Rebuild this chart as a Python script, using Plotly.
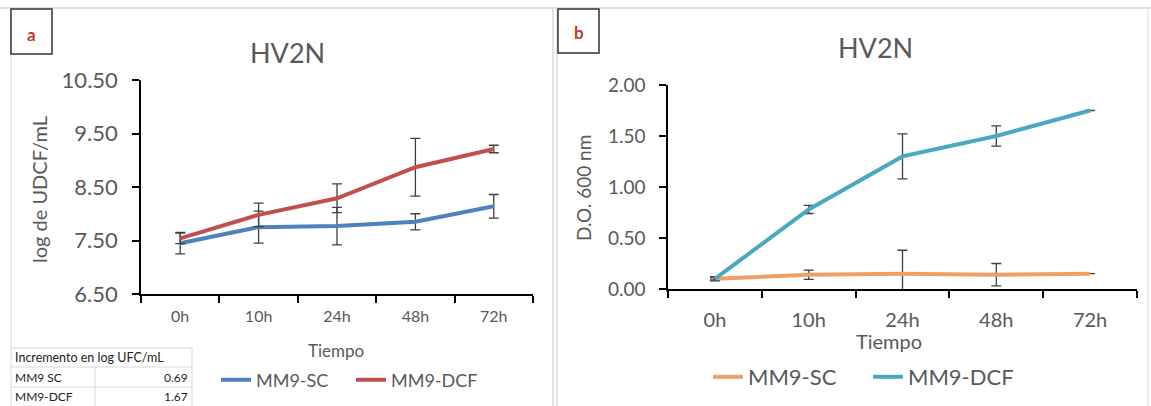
import plotly.graph_objects as go

W, H = 1151, 406

categories = ["0h", "10h", "24h", "48h", "72h"]

a_sc = [7.45, 7.75, 7.77, 7.85, 8.14]
a_sc_err = [0.20, 0.30, 0.35, 0.15, 0.22]
a_dcf = [7.54, 7.98, 8.29, 8.87, 9.21]
a_dcf_err = [0.10, 0.22, 0.27, 0.54, 0.07]

b_sc = [0.10, 0.14, 0.15, 0.14, 0.15]
b_sc_err = [0.01, 0.045, 0.23, 0.11, None]
b_dcf = [0.10, 0.78, 1.30, 1.50, 1.75]
b_dcf_err = [0.02, 0.04, 0.22, 0.10, None]

a_yticks = [6.5, 7.5, 8.5, 9.5, 10.5]
b_yticks = [0.0, 0.5, 1.0, 1.5, 2.0]

table_title = "Incremento en log UFC/mL"
table_names = ["MM9 SC", "MM9-DCF"]
table_values = ["0.69", "1.67"]

FONT = "Lato, 'Open Sans', sans-serif"
GRAY = "#595959"
ERR = "#404040"


def fx(px):
    return px / W


def fy(py):
    return 1 - py / H


def err(vals, w=5):
    return dict(type="data", array=vals, visible=True, color=ERR, thickness=1.3, width=w)


fig = go.Figure()

fig.add_trace(go.Scatter(x=categories, y=a_sc, name="MM9-SC", mode="lines",
                         line=dict(color="#4F81BD", width=4), error_y=err(a_sc_err),
                         xaxis="x", yaxis="y", legend="legend"))
fig.add_trace(go.Scatter(x=categories, y=a_dcf, name="MM9-DCF", mode="lines",
                         line=dict(color="#C0504D", width=4), error_y=err(a_dcf_err),
                         xaxis="x", yaxis="y", legend="legend"))
fig.add_trace(go.Scatter(x=categories, y=b_sc, name="MM9-SC", mode="lines",
                         line=dict(color="#EFA064", width=4), error_y=err(b_sc_err),
                         xaxis="x2", yaxis="y2", legend="legend2"))
fig.add_trace(go.Scatter(x=categories, y=b_dcf, name="MM9-DCF", mode="lines",
                         line=dict(color="#4BA8C2", width=4), error_y=err(b_dcf_err),
                         xaxis="x2", yaxis="y2", legend="legend2"))

xcommon = dict(type="category", range=[-0.5, 4.5], tickson="boundaries", ticks="outside",
               ticklen=7, tickwidth=1.5, tickcolor="black", showline=True, linecolor="black",
               linewidth=1.5, showgrid=False, zeroline=False, automargin=False)
ycommon = dict(ticks="outside", ticklen=7, tickwidth=1.5, tickcolor="black", showline=True,
               linecolor="black", linewidth=1.5, showgrid=False, zeroline=False,
               tickformat=".2f", automargin=False)

fig.update_layout(
    width=W, height=H,
    margin=dict(l=0, r=0, t=0, b=0, autoexpand=False),
    paper_bgcolor="white", plot_bgcolor="white",
    font=dict(family=FONT, color=GRAY),
    xaxis=dict(domain=[fx(141), fx(533)], anchor="y",
               tickfont=dict(size=16, color=GRAY), ticklabelstandoff=7, **xcommon),
    yaxis=dict(domain=[fy(294), fy(80)], anchor="x", range=[6.5, 10.5], tickvals=a_yticks,
               tickfont=dict(size=22, color=GRAY), ticklabelstandoff=10, **ycommon),
    xaxis2=dict(domain=[fx(668), fx(1137)], anchor="y2",
                tickfont=dict(size=20, color=GRAY), ticklabelstandoff=12, **xcommon),
    yaxis2=dict(domain=[fy(289), fy(85)], anchor="x2", range=[0, 2], tickvals=b_yticks,
                tickfont=dict(size=19, color=GRAY), ticklabelstandoff=10, **ycommon),
    legend=dict(orientation="h", x=fx(216), y=fy(380), xanchor="left", yanchor="middle",
                font=dict(size=18, color=GRAY), bgcolor="rgba(0,0,0,0)", tracegroupgap=0,
                entrywidth=90, entrywidthmode="pixels"),
    legend2=dict(orientation="h", x=fx(708), y=fy(377), xanchor="left", yanchor="middle",
                 font=dict(size=22, color=GRAY), bgcolor="rgba(0,0,0,0)", tracegroupgap=0,
                 entrywidth=115, entrywidthmode="pixels"),
    showlegend=True,
)

annotations = [
    dict(text="HV2N", x=fx(287), y=fy(52), font=dict(size=27, color=GRAY)),
    dict(text="HV2N", x=fx(875), y=fy(47), font=dict(size=27, color=GRAY)),
    dict(text="Tiempo", x=fx(336), y=fy(350), font=dict(size=17, color=GRAY)),
    dict(text="Tiempo", x=fx(889), y=fy(341), font=dict(size=20, color=GRAY)),
    dict(text="log de UDCF/mL", x=fx(39), y=fy(190), textangle=-90, font=dict(size=20, color=GRAY)),
    dict(text="D.O. 600 nm", x=fx(583), y=fy(188), textangle=-90, font=dict(size=19, color=GRAY)),
    dict(text="<b>a</b>", x=fx(31), y=fy(34), font=dict(size=17, color="#C0392B")),
    dict(text="<b>b</b>", x=fx(579), y=fy(33), font=dict(size=17, color="#C0392B")),
    dict(text=table_title, x=fx(13), y=fy(357), xanchor="left", font=dict(size=12.5, color="#222222")),
]
for i, (nm, v) in enumerate(zip(table_names, table_values)):
    yc = 377 + 19 * i
    annotations.append(dict(text=nm, x=fx(13), y=fy(yc), xanchor="left",
                            font=dict(size=12, color="#222222")))
    annotations.append(dict(text=v, x=fx(190), y=fy(yc), xanchor="right",
                            font=dict(size=12, color="#222222")))
for a in annotations:
    a.update(xref="paper", yref="paper", showarrow=False)
    a.setdefault("xanchor", "center")
    a.setdefault("yanchor", "middle")
fig.update_layout(annotations=annotations)

LG = "#D9D9D9"
shapes = [
    dict(type="line", x0=fx(0), x1=fx(1151), y0=fy(8), y1=fy(8), line=dict(color=LG, width=1.5)),
    dict(type="line", x0=fx(11), x1=fx(11), y0=fy(8), y1=fy(406), line=dict(color=LG, width=1)),
    dict(type="line", x0=fx(553), x1=fx(553), y0=fy(8), y1=fy(406), line=dict(color=LG, width=1.5)),
    dict(type="line", x0=fx(557), x1=fx(557), y0=fy(8), y1=fy(406), line=dict(color=LG, width=1.5)),
    dict(type="line", x0=fx(1148), x1=fx(1148), y0=fy(8), y1=fy(406), line=dict(color=LG, width=1)),
    dict(type="rect", x0=fx(11), x1=fx(52), y0=fy(9), y1=fy(54), line=dict(color="#333333", width=1.5)),
    dict(type="rect", x0=fx(558), x1=fx(599), y0=fy(9), y1=fy(53), line=dict(color="#333333", width=1.5)),
    dict(type="line", x0=fx(11), x1=fx(192), y0=fy(348), y1=fy(348), line=dict(color=LG, width=1)),
    dict(type="line", x0=fx(11), x1=fx(192), y0=fy(367), y1=fy(367), line=dict(color=LG, width=1)),
    dict(type="line", x0=fx(11), x1=fx(192), y0=fy(387), y1=fy(387), line=dict(color=LG, width=1)),
    dict(type="line", x0=fx(95), x1=fx(95), y0=fy(367), y1=fy(406), line=dict(color=LG, width=1)),
    dict(type="line", x0=fx(192), x1=fx(192), y0=fy(348), y1=fy(406), line=dict(color=LG, width=1)),
]
for s in shapes:
    s.update(xref="paper", yref="paper", layer="below")
fig.update_layout(shapes=shapes)

fig.write_html("out.html")
